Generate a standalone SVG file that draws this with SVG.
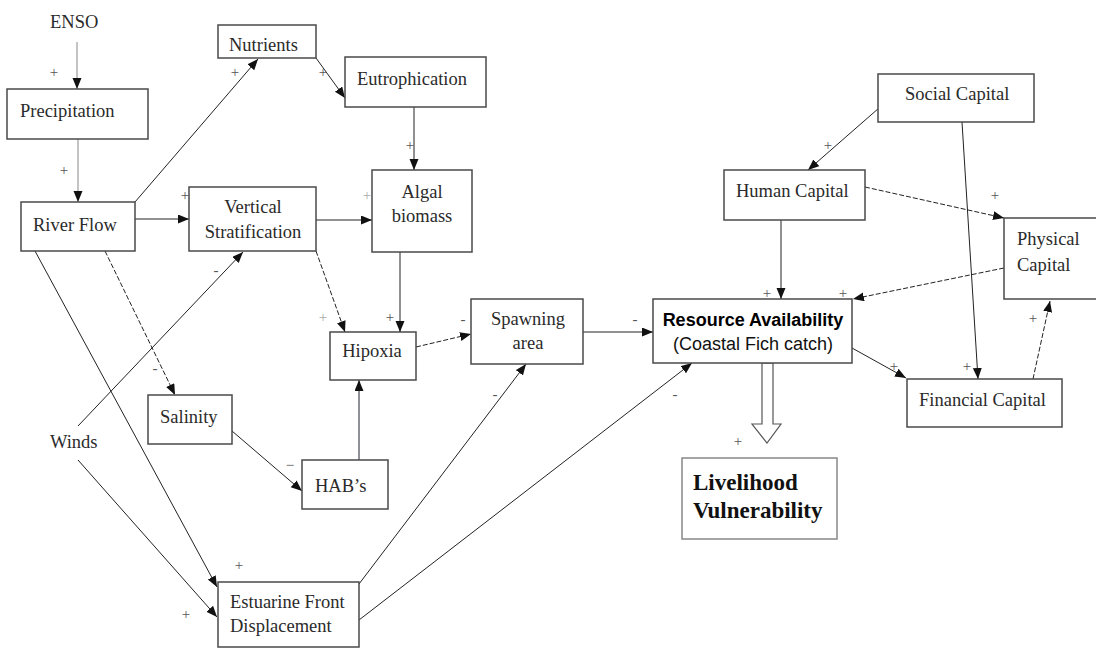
<svg xmlns="http://www.w3.org/2000/svg" width="1096" height="649" viewBox="0 0 1096 649">
<defs>
<marker id="ah" markerUnits="userSpaceOnUse" markerWidth="12" markerHeight="10" refX="11" refY="4.5" orient="auto">
<path d="M0,0 L11,4.5 L0,9 z" fill="#111"/>
</marker>
<style>
.box{fill:#fff;stroke:#4a4a4a;stroke-width:1.5}
.t{font-family:"Liberation Serif","Times New Roman",serif;font-size:18.5px;fill:#2a2a2a}
.tc{text-anchor:middle}
.c{stroke:#222;stroke-width:1;fill:none;marker-end:url(#ah)}
.g{stroke:#888}
.d{stroke-dasharray:5 2}
.s{font-family:"Liberation Serif","Times New Roman",serif;font-size:15px;fill:#555;text-anchor:middle;dominant-baseline:central}
.sl{fill:#aaa}
</style>
</defs>
<rect width="1096" height="649" fill="#fff"/>

<g id="connectors">
<line class="c g" x1="77" y1="42" x2="77" y2="89"/>
<line class="c g" x1="78" y1="139" x2="78" y2="202"/>
<line class="c" x1="135" y1="202" x2="258" y2="59"/>
<line class="c" x1="316" y1="58" x2="345" y2="98"/>
<line class="c" x1="135" y1="219" x2="189" y2="219"/>
<line class="c" x1="414" y1="107" x2="414" y2="170"/>
<line class="c" x1="316" y1="220" x2="372" y2="220"/>
<line class="c d" x1="316" y1="251" x2="345" y2="332"/>
<line class="c" x1="400" y1="252" x2="400" y2="332"/>
<line class="c" style="stroke:#223" x1="359" y1="460" x2="359" y2="380"/>
<line class="c d" x1="416" y1="347" x2="471" y2="334"/>
<line class="c" x1="583" y1="332" x2="653" y2="332"/>
<line class="c" x1="359" y1="584" x2="526" y2="364"/>
<line class="c" x1="359" y1="620" x2="692" y2="363"/>
<line class="c d" x1="105" y1="251" x2="175" y2="395"/>
<line class="c" x1="35" y1="251" x2="217" y2="587"/>
<line class="c" x1="78" y1="426" x2="243" y2="252"/>
<line class="c" x1="78" y1="460" x2="217" y2="617"/>
<line class="c" x1="232" y1="431" x2="302" y2="491"/>
<line class="c" x1="879" y1="108" x2="808" y2="170"/>
<line class="c" x1="781" y1="220" x2="781" y2="299"/>
<line class="c d" x1="865" y1="187" x2="1004" y2="218"/>
<line class="c d" x1="1004" y1="268" x2="853" y2="299"/>
<line class="c" x1="962" y1="122" x2="978" y2="379"/>
<line class="c" x1="852" y1="348" x2="906" y2="378"/>
<line class="c d" x1="1033" y1="379" x2="1050" y2="301"/>
<polygon points="762,363 762,424 752,424 767,443 781,424 773,424 773,363" fill="#fff" stroke="#555" stroke-width="1.2"/>
</g>

<g id="signs">
<text class="s" x="54" y="72">+</text>
<text class="s" x="64" y="170">+</text>
<text class="s" x="235" y="72">+</text>
<text class="s" x="323" y="72">+</text>
<text class="s" x="185" y="195">+</text>
<text class="s" x="410" y="145">+</text>
<text class="s sl" x="367" y="195">+</text>
<text class="s" x="216" y="270">-</text>
<text class="s" x="155" y="368">-</text>
<text class="s sl" x="323" y="317">+</text>
<text class="s" x="390" y="317">+</text>
<text class="s" x="463" y="319">-</text>
<text class="s" x="635" y="319">-</text>
<text class="s" x="495" y="394">-</text>
<text class="s" x="675" y="394">-</text>
<text class="s" x="290" y="465">−</text>
<text class="s" x="239" y="565">+</text>
<text class="s" x="186" y="614">+</text>
<text class="s" x="828" y="145">+</text>
<text class="s" x="767" y="293">+</text>
<text class="s" x="843" y="293">+</text>
<text class="s" x="995" y="195">+</text>
<text class="s" x="967" y="366">+</text>
<text class="s" x="894" y="366">+</text>
<text class="s" x="1033" y="318">+</text>
<text class="s" x="738" y="441">+</text>
</g>

<g id="enso"><text class="t" x="50" y="28">ENSO</text></g>
<g id="precipitation"><rect class="box" x="7" y="89" width="141" height="50"/><text class="t" x="20" y="117">Precipitation</text></g>
<g id="river-flow"><rect class="box" x="21" y="202" width="114" height="49"/><text class="t" x="33" y="231">River Flow</text></g>
<g id="nutrients"><rect class="box" x="218" y="25" width="98" height="33"/><text class="t" x="229" y="51">Nutrients</text></g>
<g id="eutrophication"><rect class="box" x="345" y="57" width="141" height="50"/><text class="t" x="357" y="85">Eutrophication</text></g>
<g id="vertical-stratification"><rect class="box" x="189" y="187" width="127" height="64"/><text class="t tc" x="253" y="213">Vertical</text><text class="t tc" x="253" y="238">Stratification</text></g>
<g id="algal-biomass"><rect class="box" x="372" y="170" width="100" height="82"/><text class="t tc" x="422" y="198">Algal</text><text class="t tc" x="422" y="222">biomass</text></g>
<g id="hipoxia"><rect class="box" x="330" y="332" width="86" height="48"/><text class="t tc" x="372" y="357">Hipoxia</text></g>
<g id="spawning-area"><rect class="box" x="471" y="299" width="112" height="65"/><text class="t tc" x="528" y="325">Spawning</text><text class="t tc" x="528" y="349">area</text></g>
<g id="resource-availability"><rect class="box" x="653" y="299" width="199" height="64"/><text x="753" y="326" text-anchor="middle" style="font-family:'Liberation Sans',Arial,sans-serif;font-size:18px;font-weight:bold;fill:#000">Resource Availability</text><text x="753" y="350" text-anchor="middle" style="font-family:'Liberation Sans',Arial,sans-serif;font-size:18px;fill:#111">(Coastal Fich catch)</text></g>
<g id="social-capital"><rect class="box" x="878" y="74" width="156" height="48"/><text class="t" x="905" y="100">Social Capital</text></g>
<g id="human-capital"><rect class="box" x="724" y="170" width="141" height="50"/><text class="t" x="736" y="197">Human Capital</text></g>
<g id="physical-capital"><rect class="box" x="1004" y="218" width="100" height="81"/><text class="t" x="1017" y="245">Physical</text><text class="t" x="1017" y="271">Capital</text></g>
<g id="financial-capital"><rect class="box" x="907" y="379" width="155" height="48"/><text class="t" x="919" y="406">Financial Capital</text></g>
<g id="salinity"><rect class="box" x="148" y="395" width="84" height="49"/><text class="t" x="160" y="423">Salinity</text></g>
<g id="habs"><rect class="box" x="302" y="460" width="86" height="49"/><text class="t" x="315" y="492">HAB’s</text></g>
<g id="winds"><text class="t" x="50" y="448">Winds</text></g>
<g id="estuarine-front"><rect class="box" x="218" y="582" width="141" height="65"/><text class="t" x="230" y="608">Estuarine Front</text><text class="t" x="230" y="632">Displacement</text></g>
<g id="livelihood"><rect x="682" y="458" width="155" height="81" fill="#fff" stroke="#888" stroke-width="1.5"/><text x="693" y="490" style="font-family:'Liberation Serif','Times New Roman',serif;font-size:23px;font-weight:bold;fill:#111">Livelihood</text><text x="693" y="518" style="font-family:'Liberation Serif','Times New Roman',serif;font-size:23px;font-weight:bold;fill:#111">Vulnerability</text></g>
</svg>
